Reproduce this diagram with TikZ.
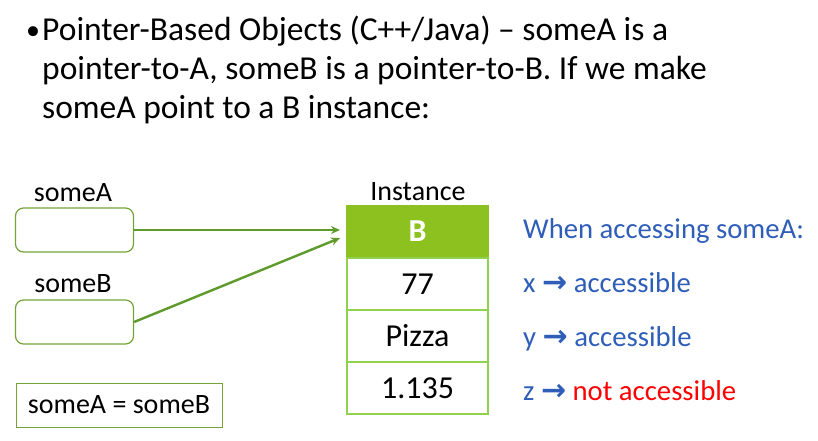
\documentclass[tikz,border=0pt]{standalone}
\usepackage{fontspec}
\setmainfont{Carlito}
\newfontfamily\symf{DejaVu Sans}
\usetikzlibrary{arrows.meta}
\definecolor{arrowgreen}{HTML}{5E9A2C}
\definecolor{boxgreen}{HTML}{76A23A}
\definecolor{headgreen}{HTML}{8CC11F}
\definecolor{cellgreen}{HTML}{92D050}
\definecolor{txtblue}{HTML}{2F5EB9}
\definecolor{txtred}{HTML}{FF0000}
\tikzset{
  titletext/.style={anchor=base west, inner sep=0pt, font=\fontsize{33.5}{39}\selectfont},
  lbl/.style={anchor=base, inner sep=0pt, font=\fontsize{28}{30}\selectfont},
  ptrbox/.style={draw=boxgreen, line width=1.2pt, rounded corners=8pt, minimum width=118pt, minimum height=44pt, inner sep=0pt},
  eqbox/.style={draw=boxgreen, line width=1pt, minimum width=206pt, minimum height=44pt, inner sep=0pt, font=\fontsize{28}{30}\selectfont},
  cell/.style={draw=cellgreen, line width=1.2pt, minimum width=141pt, minimum height=52pt, inner sep=0pt, text height=20pt, text depth=0pt, font=\fontsize{32}{34}\selectfont},
  headcell/.style={cell, fill=headgreen, draw=headgreen, text=white, font=\fontsize{32}{34}\selectfont\bfseries},
  side/.style={anchor=base west, inner sep=0pt, text=txtblue, font=\fontsize{28.7}{30}\selectfont},
  ptr/.style={draw=arrowgreen, line width=2.4pt, -{Stealth[length=9pt,width=8pt]}},
}
\newcommand{\rarr}{{\symf\bfseries\fontsize{30}{30}\selectfont →}}
\begin{document}
\begin{tikzpicture}[x=1pt,y=-1pt]
\useasboundingbox[fill=white] (0,0) rectangle (818,440);
% title
\node[titletext, font=\fontsize{28}{30}\selectfont] (bul) at (26,39) {•};
\node[titletext] (t1) at (42,40) {Pointer-Based Objects (C++/Java) – someA is a};
\node[titletext] (t2) at (42,79) {pointer-to-A, someB is a pointer-to-B. If we make};
\node[titletext] (t3) at (42,118) {someA point to a B instance:};
% pointers
\node[lbl] (la) at (73,201) {someA};
\node[ptrbox] (pa) at (74.5,230) {};
\node[lbl] (lb) at (73,292) {someB};
\node[ptrbox] (pb) at (74.5,322) {};
\node[eqbox] (eq) at (119,405) {someA = someB};
% instance table
\node[lbl] (inst) at (418,200) {Instance};
\node[headcell] (hd) at (417.5,231.5) {B};
\node[cell] (c1) at (417.5,284) {77};
\node[cell] (c2) at (417.5,336) {Pizza};
\node[cell] (c3) at (417.5,388) {1.135};
% arrows
\coordinate (ta) at (340,230);
\coordinate (tb) at (340,238);
\draw[ptr] (pa.east) -- (ta);
\draw[ptr] (pb.east) -- (tb);
% side text
\node[side] (s0) at (523,238) {When accessing someA:};
\node[side] (s1) at (523,292) {x \rarr{} accessible};
\node[side] (s2) at (523,346) {y \rarr{} accessible};
\node[side] (s3) at (523,400) {z \rarr{} \textcolor{txtred}{not accessible}};
\end{tikzpicture}
\end{document}
